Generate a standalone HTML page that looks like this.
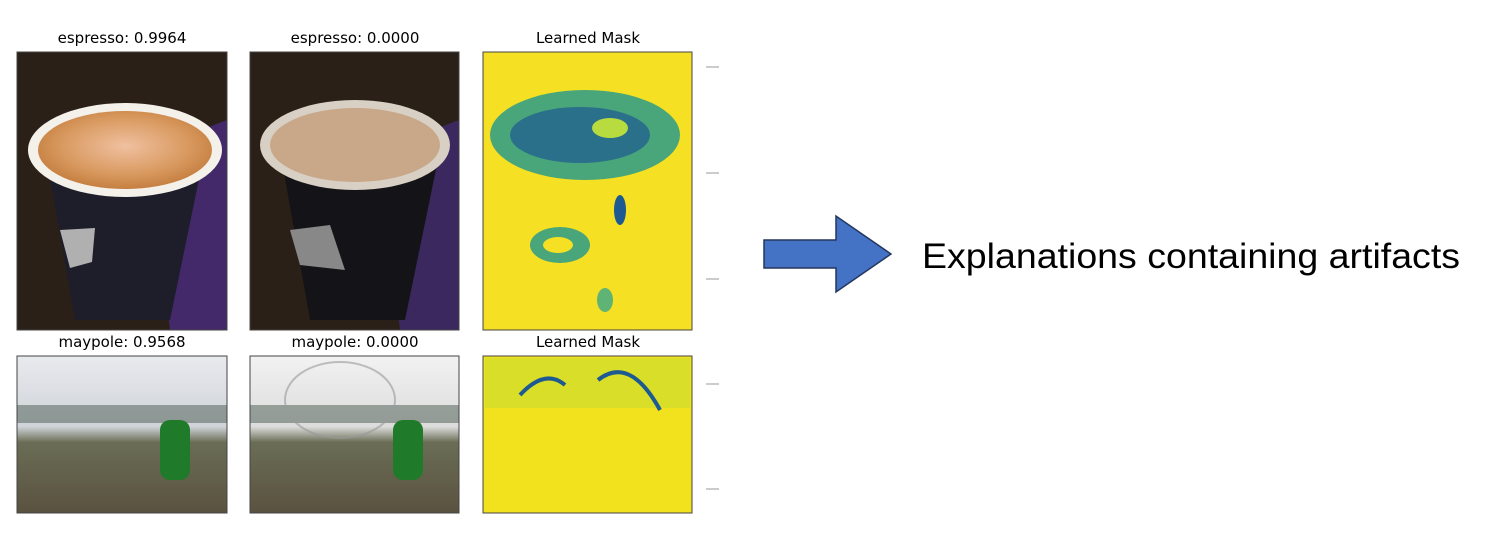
<!DOCTYPE html>
<html><head><meta charset="utf-8"><style>
html,body{margin:0;padding:0;background:#fff;width:1491px;height:543px;overflow:hidden}
svg{display:block}
text{font-family:"DejaVu Sans","Liberation Sans",sans-serif}
</style></head><body>
<svg width="1491" height="543" viewBox="0 0 1491 543">
<defs>
<radialGradient id="latte" cx="0.5" cy="0.45" r="0.6"><stop offset="0" stop-color="#f0c0a0"/><stop offset="0.6" stop-color="#d99a60"/><stop offset="1" stop-color="#c07838"/></radialGradient>
<linearGradient id="sky" x1="0" y1="0" x2="0" y2="1"><stop offset="0" stop-color="#e8eaee"/><stop offset="0.45" stop-color="#cfd3d8"/><stop offset="0.55" stop-color="#6a6d55"/><stop offset="1" stop-color="#5a5240"/></linearGradient>
<linearGradient id="sky2" x1="0" y1="0" x2="0" y2="1"><stop offset="0" stop-color="#f2f2f2"/><stop offset="0.45" stop-color="#dcdcdc"/><stop offset="0.55" stop-color="#6a6d55"/><stop offset="1" stop-color="#5a5240"/></linearGradient>
</defs>
<text x="122" y="43" font-size="15" text-anchor="middle">espresso: 0.9964</text>
<text x="355" y="43" font-size="15" text-anchor="middle">espresso: 0.0000</text>
<text x="588" y="43" font-size="15" text-anchor="middle">Learned Mask</text>
<text x="122" y="347" font-size="15" text-anchor="middle">maypole: 0.9568</text>
<text x="355" y="347" font-size="15" text-anchor="middle">maypole: 0.0000</text>
<text x="588" y="347" font-size="15" text-anchor="middle">Learned Mask</text>

<g>
<rect x="17" y="52" width="210" height="278" fill="#2a2018"/>
<polygon points="150,150 227,120 227,330 170,330" fill="#4a2a80" opacity="0.8"/>
<polygon points="45,150 205,150 170,320 75,320" fill="#1e1d2a"/>
<ellipse cx="125" cy="150" rx="97" ry="47" fill="#f4f0ea"/>
<ellipse cx="125" cy="150" rx="87" ry="39" fill="url(#latte)"/>
<path d="M60,230 L95,228 L92,262 L70,268 Z" fill="#b0b0b0"/>
<rect x="17" y="52" width="210" height="278" fill="none" stroke="#444" stroke-width="1"/>
</g>
<g>
<rect x="250" y="52" width="209" height="278" fill="#2a2018"/>
<polygon points="380,150 459,120 459,330 400,330" fill="#3e2a70" opacity="0.8"/>
<polygon points="280,150 440,150 405,320 310,320" fill="#141418"/>
<ellipse cx="355" cy="145" rx="95" ry="45" fill="#d8d0c4"/>
<ellipse cx="355" cy="145" rx="85" ry="37" fill="#c8a888"/>
<path d="M290,230 L330,225 L345,270 L300,265 Z" fill="#888"/>
<rect x="250" y="52" width="209" height="278" fill="none" stroke="#444"/>
</g>
<g>
<rect x="483" y="52" width="209" height="278" fill="#f5e023"/>
<ellipse cx="585" cy="135" rx="95" ry="45" fill="#2a9a8a" opacity="0.85"/>
<ellipse cx="580" cy="135" rx="70" ry="28" fill="#1e5a92" opacity="0.7"/>
<ellipse cx="610" cy="128" rx="18" ry="10" fill="#b8dc40"/>
<ellipse cx="560" cy="245" rx="30" ry="18" fill="#2a9a8a" opacity="0.85"/>
<ellipse cx="558" cy="245" rx="15" ry="8" fill="#f5e023"/>
<ellipse cx="620" cy="210" rx="6" ry="15" fill="#1e5a92"/>
<ellipse cx="605" cy="300" rx="8" ry="12" fill="#3aa88a" opacity="0.8"/>
<rect x="483" y="52" width="209" height="278" fill="none" stroke="#444"/>
</g>
<g>
<rect x="17" y="356" width="210" height="157" fill="url(#sky)"/>
<rect x="17" y="405" width="210" height="18" fill="#4a5a50" opacity="0.5"/>
<rect x="160" y="420" width="30" height="60" rx="10" fill="#1f7a2a"/>
<rect x="17" y="356" width="210" height="157" fill="none" stroke="#444"/>
</g>
<g>
<rect x="250" y="356" width="209" height="157" fill="url(#sky2)"/>
<rect x="250" y="405" width="209" height="18" fill="#4a5a50" opacity="0.5"/>
<ellipse cx="340" cy="400" rx="55" ry="38" fill="none" stroke="#999" stroke-width="2" opacity="0.6"/>
<rect x="393" y="420" width="30" height="60" rx="10" fill="#1f7a2a"/>
<rect x="250" y="356" width="209" height="157" fill="none" stroke="#444"/>
</g>
<g>
<rect x="483" y="356" width="209" height="157" fill="#f2e21e"/>
<rect x="485" y="358" width="205" height="50" fill="#c8dc30" opacity="0.6"/>
<path d="M520,395 Q545,368 565,385" stroke="#1e5a92" stroke-width="4" fill="none"/>
<path d="M598,380 Q630,355 660,410" stroke="#1e5a92" stroke-width="4" fill="none"/>
<rect x="483" y="356" width="209" height="157" fill="none" stroke="#444"/>
</g>
<g stroke="#bbb" stroke-width="1.5">
<line x1="706" y1="67" x2="719" y2="67"/><line x1="706" y1="173" x2="719" y2="173"/>
<line x1="706" y1="279" x2="719" y2="279"/><line x1="706" y1="384" x2="719" y2="384"/>
<line x1="706" y1="489" x2="719" y2="489"/>
</g>
<polygon points="764,240 836,240 836,216 891,254 836,292 836,268 764,268" fill="#4472c4" stroke="#24375e" stroke-width="1.5"/>
<text x="922" y="268" font-size="35" textLength="538" lengthAdjust="spacingAndGlyphs" style="font-family:'Liberation Sans',sans-serif">Explanations containing artifacts</text>
</svg>
</body></html>
